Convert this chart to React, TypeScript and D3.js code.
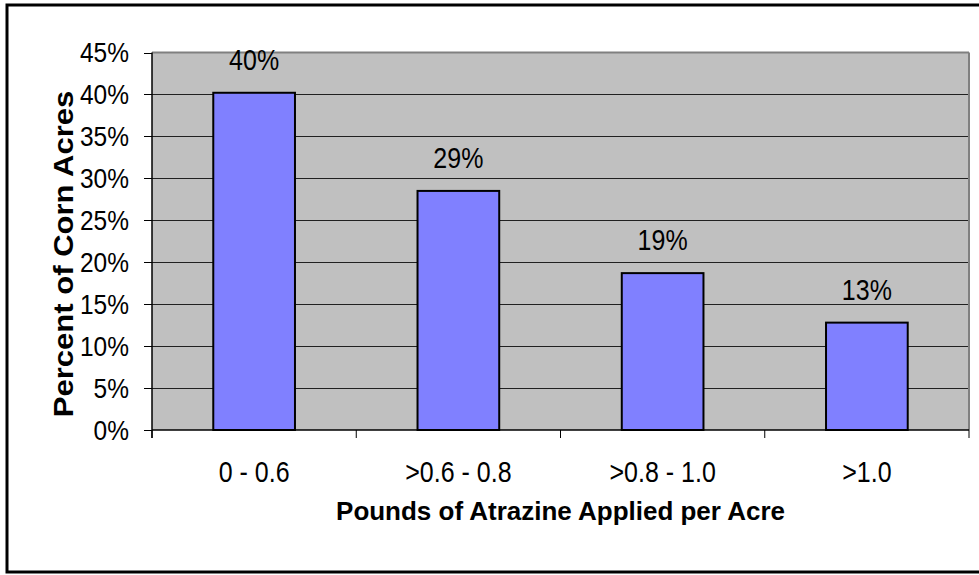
import React from "react";
import * as d3 from "d3";

const categories = ["0 - 0.6", ">0.6 - 0.8", ">0.8 - 1.0", ">1.0"];
const values = [0.402, 0.285, 0.187, 0.128];
const valueLabels = ["40%", "29%", "19%", "13%"];
const yTicks = [0, 0.05, 0.1, 0.15, 0.2, 0.25, 0.3, 0.35, 0.4, 0.45];
const xTitle = "Pounds of Atrazine Applied per Acre";
const yTitle = "Percent of Corn Acres";

const W = 979;
const H = 575;
const left = 152;
const right = 969;
const top = 52.5;
const bottom = 430;
const font = "'Liberation Sans', Arial, sans-serif";
const SY = 1.15;

export default function App() {
  const x = d3.scaleBand<string>().domain(categories).range([left, right]).paddingInner(0.6).paddingOuter(0.3);
  const y = d3.scaleLinear().domain([0, 0.45]).range([bottom, top]);
  const fmt = d3.format(".0%");
  const step = (right - left) / categories.length;
  const boundaries = d3.range(categories.length + 1).map((i) => left + i * step);

  return (
    <svg width={W} height={H} style={{ position: "absolute", left: 0, top: 0, background: "#fff" }}>
      <rect x={7} y={5} width={990} height={567} fill="#fff" stroke="#000" strokeWidth={3} />
      <rect x={left} y={top} width={right - left} height={bottom - top} fill="#C0C0C0" />
      {yTicks.slice(1, -1).map((t) => (
        <line key={t} x1={left} x2={right} y1={Math.round(y(t)) + 0.5} y2={Math.round(y(t)) + 0.5} stroke="#202020" strokeWidth={1} />
      ))}
      <line x1={left} x2={right} y1={top} y2={top} stroke="#808080" strokeWidth={2} />
      <line x1={right} x2={right} y1={top} y2={bottom} stroke="#808080" strokeWidth={2} />
      {categories.map((c, i) => (
        <rect key={c} x={x(c)} y={y(values[i])} width={x.bandwidth()} height={bottom - y(values[i])} fill="#8080FF" stroke="#000" strokeWidth={2} />
      ))}
      <line x1={left} x2={left} y1={top} y2={bottom + 8} stroke="#000" strokeWidth={1.5} />
      <line x1={left} x2={right} y1={bottom} y2={bottom} stroke="#000" strokeWidth={1.5} />
      {yTicks.map((t) => (
        <g key={t}>
          <line x1={left - 8} x2={left} y1={Math.round(y(t)) + 0.5} y2={Math.round(y(t)) + 0.5} stroke="#000" strokeWidth={1} />
          <text transform={`translate(129,${y(t) + 9.5}) scale(1,${SY})`} textAnchor="end" fontFamily={font} fontSize={24.5} fill="#000">
            {fmt(t)}
          </text>
        </g>
      ))}
      {boundaries.map((b, i) => (
        <line key={i} x1={b} x2={b} y1={bottom} y2={bottom + 8} stroke="#000" strokeWidth={1} />
      ))}
      {categories.map((c, i) => (
        <g key={c}>
          <text transform={`translate(${x(c)! + x.bandwidth() / 2},482) scale(1,${SY})`} textAnchor="middle" fontFamily={font} fontSize={25} fill="#000">
            {c}
          </text>
          <text transform={`translate(${x(c)! + x.bandwidth() / 2},${y(values[i]) - 23}) scale(1,${SY})`} textAnchor="middle" fontFamily={font} fontSize={25} fill="#000">
            {valueLabels[i]}
          </text>
        </g>
      ))}
      <text transform={`translate(${(left + right) / 2},520) scale(1,${SY * 0.85})`} textAnchor="middle" fontFamily={font} fontSize={26} fontWeight="bold" fill="#000">
        {xTitle}
      </text>
      <text transform={`translate(73,254) rotate(-90) scale(${SY},1)`} textAnchor="middle" fontFamily={font} fontSize={27} fontWeight="bold" fill="#000">
        {yTitle}
      </text>
    </svg>
  );
}
